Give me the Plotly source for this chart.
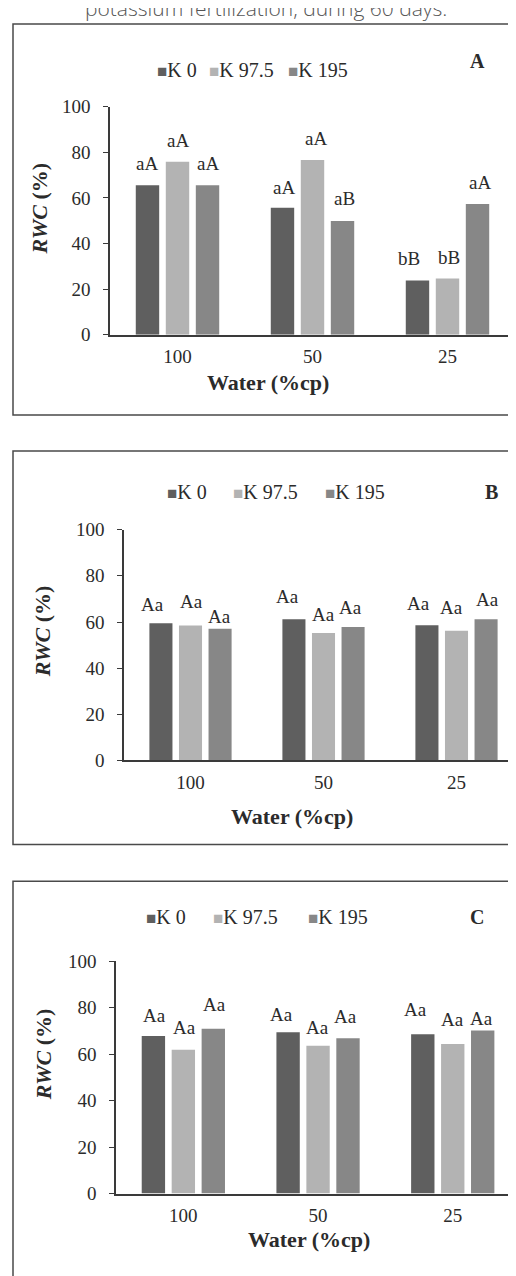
import plotly.graph_objects as go

# ---------------- data ----------------
categories = ["100", "50", "25"]
series_names = ["K 0", "K 97.5", "K 195"]

a_k0 = [65.6, 55.7, 23.8]
a_k975 = [75.9, 76.6, 24.7]
a_k195 = [65.6, 49.9, 57.3]
a_lab_k0 = ["aA", "aA", "bB"]
a_lab_k975 = ["aA", "aA", "bB"]
a_lab_k195 = ["aA", "aB", "aA"]

b_k0 = [59.5, 61.2, 58.6]
b_k975 = [58.5, 55.2, 56.2]
b_k195 = [57.1, 57.8, 61.2]
b_lab_k0 = ["Aa", "Aa", "Aa"]
b_lab_k975 = ["Aa", "Aa", "Aa"]
b_lab_k195 = ["Aa", "Aa", "Aa"]

c_k0 = [67.9, 69.5, 68.6]
c_k975 = [61.9, 63.7, 64.4]
c_k195 = [71.0, 66.9, 70.2]
c_lab_k0 = ["Aa", "Aa", "Aa"]
c_lab_k975 = ["Aa", "Aa", "Aa"]
c_lab_k195 = ["Aa", "Aa", "Aa"]

panel_letters = ["A", "B", "C"]
y_ticks = [0, 20, 40, 60, 80, 100]
caption = "potassium fertilization, during 60 days."

# ---------------- style ----------------
OFF = 8                      # default page margin of the html body
W, H = 516 - OFF, 1276 - OFF
colors = ["#5f5f5f", "#b3b3b3", "#878787"]
SERIF = "Liberation Serif, Times New Roman, serif"
TXT = "#2b2b2b"
AX = "#3a3a3a"
BARGAP = 0.333
GROUPGAP = 0.22

# hand placement of the significance letters (pixels: lift above bar, sideways nudge)
lift_a = [[21.7, 20.7, 22.4], [21.3, 21.6, 20.4], [21.7, 22.0, 21.3]]
nudge_a = [[0, 2, -8], [0, 3, 1], [0, 1.5, 2]]
lift_b = [[18.3, 22.6, 21.3], [24.0, 18.3, 23.7], [12.3, 20.0, 19.3]]
nudge_b = [[-8, -6.5, -8.5], [0.5, 0, -5], [-1, -3, 1]]
lift_c = [[20.3, 17.6, 24.6], [22.3, 18.0, 24.6], [24.0, 22.0, 12.3]]
nudge_c = [[0.7, -7, -7.5], [1.3, -0.7, 0], [1.7, -2.5, -1.5]]

def fx(px):
    return (px - OFF) / W

def fy(py):
    return 1 - (py - OFF) / H

# panel geometry in page pixels
panels = [
    dict(ax=110, cat=135, y0=330, y100=98.3, box=(14, 411.7),
         leg_x=[155, 207, 286], leg_y=60.5, letter=(477, 51.7),
         xtitle=(268, 378.3), ytitle=(39, 201.7), lift=lift_a, nudge=nudge_a,
         vals=[a_k0, a_k975, a_k195], labs=[a_lab_k0, a_lab_k975, a_lab_k195]),
    dict(ax=124, cat=133, y0=763, y100=528.3, box=(448.3, 848.3),
         leg_x=[165, 231, 323], leg_y=490, letter=(491.7, 490),
         xtitle=(292, 820), ytitle=(42, 631.7), lift=lift_b, nudge=nudge_b,
         vals=[b_k0, b_k975, b_k195], labs=[b_lab_k0, b_lab_k975, b_lab_k195]),
    dict(ax=116, cat=134.7, y0=1203.3, y100=967.3, box=(885.7, 1300),
         leg_x=[144, 211, 306], leg_y=921.7, letter=(476.7, 921.7),
         xtitle=(309, 1250), ytitle=(43, 1061.7), lift=lift_c, nudge=nudge_c,
         vals=[c_k0, c_k975, c_k195], labs=[c_lab_k0, c_lab_k975, c_lab_k195]),
]

fig = go.Figure()
annotations = []
shapes = []

for pi, p in enumerate(panels):
    n = "" if pi == 0 else str(pi + 1)
    xa, ya = "x" + n, "y" + n
    for si in range(3):
        fig.add_trace(go.Bar(
            x=categories, y=p["vals"][si], name=series_names[si],
            marker=dict(color=colors[si], line=dict(width=0)),
            xaxis=xa, yaxis=ya, showlegend=False,
        ))
    x_end = -0.5 + (516 - p["ax"]) / p["cat"]
    fig.layout["xaxis" + n] = dict(
        domain=[fx(p["ax"]), 1], range=[-0.5, x_end], type="category",
        anchor=ya, showline=True, linecolor=AX, linewidth=1.5,
        ticks="", showgrid=False, zeroline=False,
        tickfont=dict(family=SERIF, size=19, color=TXT),
        ticklabelstandoff=4, fixedrange=True,
    )
    fig.layout["yaxis" + n] = dict(
        domain=[fy(p["y0"]), fy(p["y100"])], range=[0, 100],
        anchor=xa, showline=True, linecolor=AX, linewidth=1.5,
        ticks="outside", ticklen=5, tickwidth=1.2, tickcolor=AX,
        tickvals=y_ticks, showgrid=False, zeroline=False,
        tickfont=dict(family=SERIF, size=19, color=TXT),
        ticklabelstandoff=9, fixedrange=True,
    )
    # value letters
    slot = p["cat"] * (1 - BARGAP) / 3
    for si in range(3):
        for ci in range(len(categories)):
            annotations.append(dict(
                x=ci, y=p["vals"][si][ci], xref=xa, yref=ya,
                text=p["labs"][si][ci], showarrow=False,
                xanchor="center", yanchor="middle",
                xshift=(si - 1) * slot + p["nudge"][si][ci],
                yshift=p["lift"][si][ci],
                font=dict(family=SERIF, size=19, color=TXT),
            ))
    # legend entries
    for si in range(3):
        annotations.append(dict(
            x=fx(p["leg_x"][si]), y=fy(p["leg_y"]), xref="paper", yref="paper",
            text=f"<span style='color:{colors[si]};font-size:17px'>■</span>{series_names[si]}",
            showarrow=False, xanchor="left", yanchor="middle",
            font=dict(family=SERIF, size=20, color=TXT),
        ))
    # panel letter
    annotations.append(dict(
        x=fx(p["letter"][0]), y=fy(p["letter"][1]), xref="paper", yref="paper",
        text=f"<b>{panel_letters[pi]}</b>", showarrow=False,
        xanchor="center", yanchor="middle",
        font=dict(family=SERIF, size=20, color=TXT),
    ))
    # x title
    annotations.append(dict(
        x=fx(p["xtitle"][0]), y=fy(p["xtitle"][1]), xref="paper", yref="paper",
        text="<b>Water (%cp)</b>", showarrow=False,
        xanchor="center", yanchor="middle",
        font=dict(family=SERIF, size=22, color=TXT),
    ))
    # y title
    annotations.append(dict(
        x=fx(p["ytitle"][0]), y=fy(p["ytitle"][1]), xref="paper", yref="paper",
        text="<b><i>RWC</i> (%)</b>", showarrow=False, textangle=-90,
        xanchor="center", yanchor="middle",
        font=dict(family=SERIF, size=22, color=TXT),
    ))
    # frame
    shapes.append(dict(
        type="rect", xref="paper", yref="paper",
        x0=fx(13), x1=fx(540), y0=fy(p["box"][1]), y1=fy(p["box"][0]),
        line=dict(color="#4a4a4a", width=1.5), fillcolor="rgba(0,0,0,0)",
    ))

# caption running off the top edge, as in the source page
annotations.append(dict(
    x=fx(266), y=fy(-2), xref="paper", yref="paper",
    text=caption, showarrow=False, xanchor="center", yanchor="middle",
    font=dict(family="Open Sans", size=21, color="#555555", weight=300),
))

fig.update_layout(
    width=W, height=H, margin=dict(l=0, r=0, t=0, b=0),
    paper_bgcolor="white", plot_bgcolor="white",
    barmode="group", bargap=BARGAP, bargroupgap=GROUPGAP,
    annotations=annotations, shapes=shapes, showlegend=False,
)

fig.write_html("out.html")
